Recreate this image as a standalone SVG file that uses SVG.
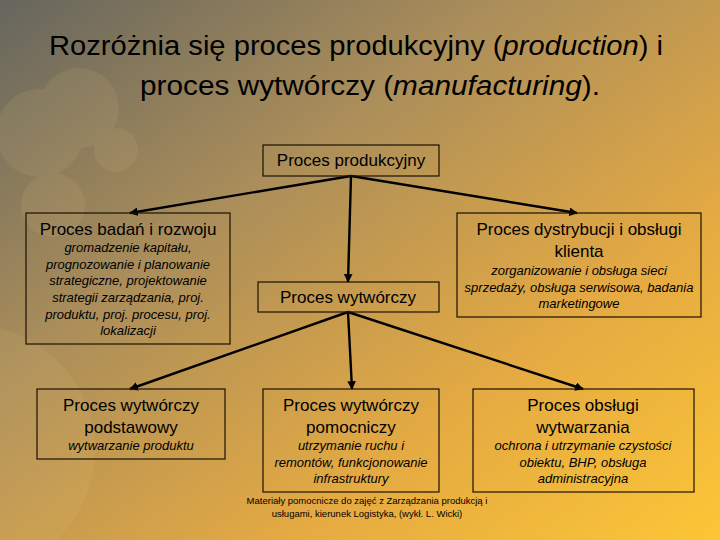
<svg xmlns="http://www.w3.org/2000/svg" width="720" height="540" viewBox="0 0 720 540">
<defs>
<linearGradient id="bg" x1="0" y1="0" x2="1" y2="1">
<stop offset="0" stop-color="#66665e"/>
<stop offset="0.35" stop-color="#ab8e5a"/>
<stop offset="0.7" stop-color="#e5aa42"/>
<stop offset="1" stop-color="#fcc636"/>
</linearGradient>
<marker id="arr" viewBox="0 0 10 10" refX="9" refY="5" markerWidth="3.6" markerHeight="3.6" orient="auto" markerUnits="strokeWidth">
<path d="M0,0 L10,5 L0,10 z" fill="#000"/>
</marker>
<style>
.box{fill:none;stroke:#1a1206;stroke-width:1.2}
.t{font-family:"Liberation Sans",Arial,sans-serif;font-size:17px;fill:#000;text-anchor:middle}
.i{font-family:"Liberation Sans",Arial,sans-serif;font-size:13px;font-style:italic;fill:#000;text-anchor:middle}
.c{stroke:#000;stroke-width:2.4;fill:none;marker-end:url(#arr)}
.title{font-family:"Liberation Sans",Arial,sans-serif;font-size:27px;fill:#000;text-anchor:middle}
.foot{font-family:"Liberation Sans",Arial,sans-serif;font-size:9.5px;fill:#000;text-anchor:middle}
.bk{fill:#f3d48a}
</style>
</defs>
<rect width="720" height="540" fill="url(#bg)"/>
<g id="bokeh" opacity="0.09">
<circle class="bk" cx="40" cy="133" r="44"/>
<circle class="bk" cx="79" cy="108" r="40"/>
<circle class="bk" cx="116" cy="150" r="22"/>
<circle class="bk" cx="53" cy="205" r="32"/>
<circle class="bk" cx="-30" cy="450" r="125"/>
</g>
<g id="title">
<text class="title" x="356" y="55" textLength="614" lengthAdjust="spacingAndGlyphs">Rozróżnia się proces produkcyjny (<tspan font-style="italic">production</tspan>) i</text>
<text class="title" x="370" y="95" textLength="460" lengthAdjust="spacingAndGlyphs">proces wytwórczy (<tspan font-style="italic">manufacturing</tspan>).</text>
</g>
<g id="connectors">
<line class="c" x1="351" y1="176" x2="130" y2="213"/>
<line class="c" x1="351" y1="176" x2="577" y2="213"/>
<line class="c" x1="351" y1="176" x2="348" y2="282"/>
<line class="c" x1="348" y1="312" x2="130" y2="389"/>
<line class="c" x1="348" y1="312" x2="352" y2="389"/>
<line class="c" x1="348" y1="312" x2="583" y2="389"/>
</g>
<g id="n-produkcyjny">
<rect class="box" x="263" y="145" width="176" height="31"/>
<text class="t" x="351" y="166">Proces produkcyjny</text>
</g>
<g id="n-badan">
<rect class="box" x="26" y="213" width="204" height="131"/>
<text class="t" x="128" y="235">Proces badań i rozwoju</text>
<text class="i" x="128" y="252">gromadzenie kapitału,</text>
<text class="i" x="128" y="269">prognozowanie i planowanie</text>
<text class="i" x="128" y="285">strategiczne, projektowanie</text>
<text class="i" x="128" y="302">strategii zarządzania, proj.</text>
<text class="i" x="128" y="319">produktu, proj. procesu, proj.</text>
<text class="i" x="128" y="335">lokalizacji</text>
</g>
<g id="n-dystrybucji">
<rect class="box" x="457" y="213" width="244" height="104"/>
<text class="t" x="579" y="235">Proces dystrybucji i obsługi</text>
<text class="t" x="579" y="257">klienta</text>
<text class="i" x="579" y="275">zorganizowanie i obsługa sieci</text>
<text class="i" x="579" y="292">sprzedaży, obsługa serwisowa, badania</text>
<text class="i" x="579" y="308">marketingowe</text>
</g>
<g id="n-wytworczy">
<rect class="box" x="258" y="282" width="181" height="30"/>
<text class="t" x="348" y="303">Proces wytwórczy</text>
</g>
<g id="n-podstawowy">
<rect class="box" x="37" y="389" width="188" height="70"/>
<text class="t" x="131" y="411">Proces wytwórczy</text>
<text class="t" x="131" y="433">podstawowy</text>
<text class="i" x="131" y="450">wytwarzanie produktu</text>
</g>
<g id="n-pomocniczy">
<rect class="box" x="263" y="389" width="176" height="103"/>
<text class="t" x="351" y="411">Proces wytwórczy</text>
<text class="t" x="351" y="433">pomocniczy</text>
<text class="i" x="351" y="450">utrzymanie ruchu i</text>
<text class="i" x="351" y="467">remontów, funkcjonowanie</text>
<text class="i" x="351" y="483">infrastruktury</text>
</g>
<g id="n-obslugi">
<rect class="box" x="473" y="389" width="221" height="103"/>
<text class="t" x="583" y="411">Proces obsługi</text>
<text class="t" x="583" y="433">wytwarzania</text>
<text class="i" x="583" y="450">ochrona i utrzymanie czystości</text>
<text class="i" x="583" y="467">obiektu, BHP, obsługa</text>
<text class="i" x="583" y="483">administracyjna</text>
</g>
<g id="footer">
<text class="foot" x="367" y="504">Materiały pomocnicze do zajęć z Zarządzania produkcją i</text>
<text class="foot" x="367" y="517">usługami, kierunek Logistyka, (wykł. L. Wicki)</text>
</g>
</svg>
